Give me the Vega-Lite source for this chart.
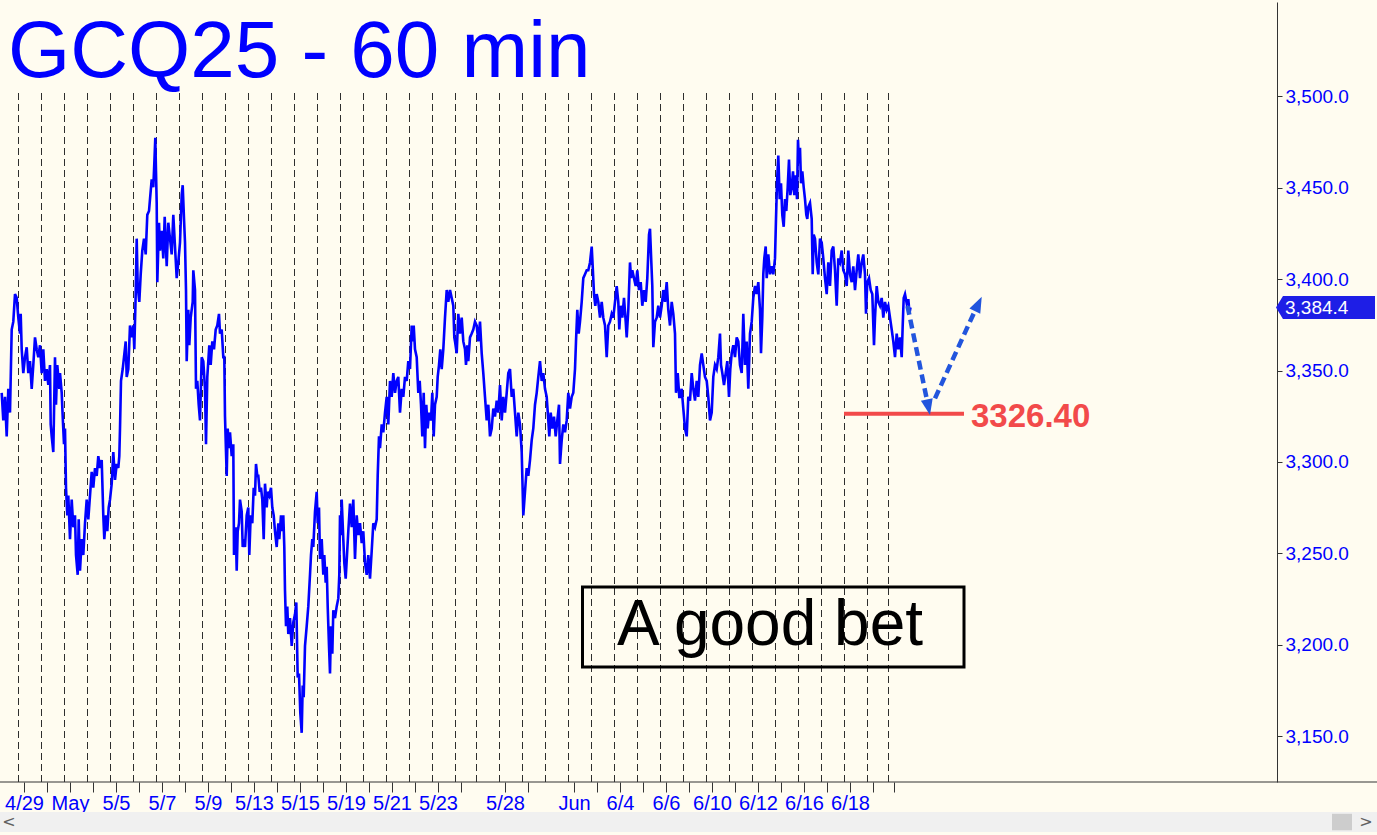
{
"$schema": "https://vega.github.io/schema/vega-lite/v6.json",
"width": 1277, "height": 780, "autosize": "none",
"padding": {"left": 0, "top": 2, "right": 100, "bottom": 53},
"background": "#FFFCF0",
"config": {"view": {"stroke": null}, "font": "Liberation Sans"},
"datasets": {
"series": [
{"t":1.7,"p":3337.8},{"t":3.3,"p":3322.7},{"t":5.0,"p":3335.6},{"t":6.7,"p":3314.0},{"t":8.3,"p":3340.0},{"t":10.0,"p":3327.0},{"t":11.7,"p":3372.4},{"t":13.3,"p":3376.7},{"t":15.0,"p":3391.8},{"t":16.7,"p":3389.7},{"t":18.3,"p":3378.9},{"t":20.0,"p":3370.2},{"t":20.7,"p":3381.0},{"t":21.7,"p":3361.6},{"t":23.3,"p":3348.6},{"t":25.0,"p":3357.3},{"t":26.7,"p":3362.7},{"t":28.3,"p":3348.6},{"t":30.0,"p":3355.1},{"t":31.7,"p":3340.0},{"t":33.3,"p":3353.0},{"t":35.0,"p":3368.1},{"t":36.7,"p":3361.6},{"t":38.3,"p":3357.3},{"t":40.0,"p":3363.8},{"t":41.7,"p":3348.6},{"t":43.3,"p":3361.6},{"t":45.0,"p":3344.3},{"t":46.7,"p":3350.8},{"t":48.3,"p":3342.1},{"t":50.0,"p":3353.0},{"t":50.7,"p":3320.5},{"t":51.7,"p":3314.0},{"t":53.3,"p":3305.4},{"t":55.0,"p":3357.3},{"t":56.0,"p":3331.3},{"t":57.3,"p":3353.0},{"t":59.3,"p":3340.0},{"t":60.0,"p":3348.6},{"t":61.7,"p":3337.8},{"t":62.7,"p":3324.8},{"t":64.0,"p":3309.7},{"t":65.0,"p":3318.3},{"t":66.0,"p":3285.9},{"t":67.3,"p":3270.8},{"t":68.3,"p":3281.6},{"t":70.0,"p":3257.8},{"t":71.7,"p":3279.4},{"t":73.3,"p":3264.3},{"t":75.0,"p":3270.8},{"t":76.0,"p":3249.1},{"t":77.7,"p":3238.3},{"t":78.7,"p":3268.6},{"t":80.0,"p":3240.5},{"t":81.7,"p":3257.8},{"t":83.3,"p":3249.1},{"t":85.0,"p":3266.5},{"t":86.7,"p":3279.4},{"t":88.3,"p":3268.6},{"t":90.0,"p":3281.6},{"t":91.7,"p":3294.6},{"t":93.3,"p":3285.9},{"t":95.0,"p":3296.7},{"t":96.7,"p":3292.4},{"t":98.3,"p":3303.2},{"t":100.0,"p":3296.7},{"t":101.7,"p":3301.0},{"t":103.3,"p":3270.8},{"t":104.3,"p":3257.8},{"t":106.0,"p":3270.8},{"t":107.3,"p":3262.1},{"t":108.7,"p":3275.1},{"t":110.0,"p":3279.4},{"t":111.7,"p":3288.1},{"t":113.3,"p":3305.4},{"t":115.0,"p":3290.2},{"t":116.7,"p":3298.9},{"t":118.3,"p":3296.7},{"t":119.3,"p":3303.2},{"t":120.0,"p":3318.3},{"t":121.0,"p":3344.3},{"t":122.7,"p":3350.8},{"t":124.0,"p":3357.3},{"t":125.7,"p":3365.9},{"t":126.7,"p":3346.5},{"t":128.3,"p":3350.8},{"t":130.0,"p":3374.6},{"t":131.7,"p":3368.1},{"t":133.3,"p":3374.6},{"t":134.3,"p":3361.6},{"t":135.7,"p":3391.8},{"t":136.7,"p":3422.1},{"t":137.7,"p":3396.2},{"t":139.3,"p":3387.5},{"t":140.7,"p":3402.6},{"t":142.3,"p":3415.6},{"t":144.0,"p":3422.1},{"t":145.7,"p":3413.5},{"t":147.3,"p":3435.1},{"t":149.0,"p":3437.2},{"t":150.0,"p":3443.7},{"t":151.7,"p":3454.5},{"t":153.3,"p":3450.2},{"t":154.3,"p":3463.2},{"t":155.3,"p":3477.2},{"t":156.0,"p":3458.9},{"t":156.7,"p":3441.6},{"t":157.3,"p":3398.3},{"t":159.0,"p":3430.8},{"t":160.0,"p":3415.6},{"t":161.7,"p":3426.4},{"t":163.3,"p":3411.3},{"t":164.7,"p":3434.0},{"t":166.7,"p":3407.0},{"t":168.3,"p":3430.8},{"t":170.0,"p":3422.1},{"t":171.7,"p":3413.5},{"t":173.3,"p":3435.1},{"t":175.0,"p":3417.8},{"t":176.7,"p":3400.5},{"t":178.3,"p":3409.1},{"t":180.0,"p":3420.0},{"t":181.7,"p":3445.9},{"t":182.7,"p":3451.3},{"t":184.0,"p":3432.9},{"t":185.0,"p":3420.0},{"t":186.0,"p":3394.0},{"t":186.7,"p":3355.1},{"t":188.3,"p":3383.2},{"t":189.3,"p":3363.8},{"t":190.7,"p":3378.9},{"t":192.7,"p":3387.5},{"t":193.3,"p":3404.8},{"t":195.0,"p":3394.0},{"t":196.0,"p":3340.0},{"t":197.3,"p":3344.3},{"t":198.7,"p":3331.3},{"t":200.0,"p":3322.7},{"t":201.7,"p":3357.3},{"t":203.3,"p":3355.1},{"t":205.0,"p":3340.0},{"t":206.0,"p":3309.7},{"t":207.3,"p":3346.5},{"t":209.3,"p":3363.8},{"t":210.7,"p":3353.0},{"t":212.3,"p":3365.9},{"t":214.0,"p":3361.6},{"t":215.7,"p":3372.4},{"t":217.3,"p":3374.6},{"t":219.0,"p":3381.0},{"t":220.0,"p":3370.2},{"t":221.7,"p":3372.4},{"t":223.3,"p":3357.3},{"t":224.3,"p":3357.3},
{"t":225.0,"p":3324.8},{"t":226.7,"p":3292.4},{"t":227.7,"p":3318.3},{"t":229.0,"p":3307.5},{"t":230.0,"p":3316.2},{"t":231.7,"p":3303.2},{"t":233.3,"p":3309.7},{"t":234.0,"p":3249.1},{"t":235.7,"p":3264.3},{"t":236.7,"p":3240.5},{"t":237.7,"p":3262.1},{"t":239.0,"p":3266.5},{"t":240.0,"p":3279.4},{"t":241.7,"p":3272.9},{"t":242.7,"p":3253.5},{"t":244.0,"p":3257.8},{"t":245.0,"p":3253.5},{"t":246.7,"p":3270.8},{"t":248.3,"p":3275.1},{"t":249.3,"p":3249.1},{"t":250.7,"p":3270.8},{"t":252.3,"p":3266.5},{"t":253.7,"p":3285.9},{"t":255.0,"p":3281.6},{"t":256.0,"p":3298.9},{"t":257.3,"p":3292.4},{"t":258.3,"p":3292.4},{"t":259.7,"p":3283.7},{"t":261.0,"p":3285.9},{"t":262.3,"p":3279.4},{"t":263.7,"p":3257.8},{"t":265.0,"p":3288.1},{"t":266.7,"p":3275.1},{"t":267.7,"p":3283.7},{"t":269.3,"p":3281.6},{"t":271.0,"p":3285.9},{"t":272.3,"p":3275.1},{"t":273.7,"p":3270.8},{"t":275.0,"p":3262.1},{"t":276.7,"p":3253.5},{"t":278.3,"p":3266.5},{"t":279.3,"p":3257.8},{"t":281.0,"p":3270.8},{"t":282.3,"p":3262.1},{"t":283.3,"p":3270.8},{"t":284.3,"p":3253.5},{"t":285.0,"p":3229.7},{"t":286.0,"p":3210.2},{"t":287.3,"p":3221.0},{"t":288.3,"p":3205.9},{"t":290.0,"p":3214.6},{"t":291.7,"p":3199.4},{"t":293.3,"p":3212.4},{"t":295.0,"p":3216.7},{"t":296.3,"p":3223.2},{"t":297.7,"p":3182.1},{"t":299.0,"p":3184.3},{"t":300.3,"p":3162.7},{"t":301.7,"p":3151.9},{"t":302.7,"p":3177.8},{"t":303.7,"p":3171.3},{"t":305.0,"p":3199.4},{"t":306.7,"p":3210.2},{"t":308.3,"p":3221.0},{"t":310.0,"p":3238.3},{"t":311.0,"p":3249.1},{"t":312.3,"p":3257.8},{"t":313.3,"p":3253.5},{"t":315.0,"p":3272.9},{"t":316.7,"p":3283.7},{"t":317.7,"p":3266.5},{"t":319.0,"p":3275.1},{"t":320.0,"p":3247.0},{"t":321.7,"p":3257.8},{"t":323.3,"p":3238.3},{"t":324.3,"p":3249.1},{"t":325.7,"p":3234.0},{"t":326.7,"p":3242.7},{"t":327.7,"p":3221.0},{"t":329.0,"p":3199.4},{"t":330.0,"p":3184.3},{"t":331.0,"p":3210.2},{"t":332.3,"p":3195.1},{"t":333.3,"p":3218.9},{"t":335.0,"p":3214.6},{"t":336.7,"p":3221.0},{"t":338.3,"p":3225.4},{"t":339.3,"p":3238.3},{"t":340.0,"p":3270.8},{"t":341.0,"p":3260.0},{"t":341.7,"p":3279.4},{"t":343.3,"p":3257.8},{"t":344.3,"p":3244.8},{"t":345.7,"p":3236.2},{"t":347.0,"p":3249.1},{"t":348.3,"p":3262.1},{"t":350.0,"p":3277.3},{"t":351.7,"p":3264.3},{"t":353.3,"p":3279.4},{"t":355.0,"p":3247.0},{"t":356.7,"p":3270.8},{"t":358.3,"p":3260.0},{"t":360.0,"p":3266.5},{"t":361.7,"p":3255.6},{"t":363.3,"p":3262.1},{"t":365.0,"p":3244.8},{"t":366.7,"p":3238.3},{"t":368.3,"p":3249.1},{"t":370.0,"p":3236.2},{"t":371.7,"p":3251.3},{"t":373.3,"p":3266.5},{"t":375.0,"p":3264.3},{"t":376.7,"p":3268.6},{"t":377.7,"p":3292.4},{"t":379.0,"p":3314.0},{"t":380.0,"p":3307.5},{"t":381.7,"p":3320.5},{"t":383.3,"p":3316.2},{"t":385.0,"p":3327.0},{"t":386.7,"p":3335.6},{"t":388.3,"p":3320.5},{"t":390.0,"p":3344.3},{"t":391.7,"p":3335.6},{"t":393.3,"p":3348.6},{"t":395.0,"p":3337.8},{"t":396.7,"p":3344.3},{"t":398.3,"p":3346.5},{"t":400.0,"p":3327.0},{"t":401.7,"p":3340.0},{"t":403.3,"p":3335.6},{"t":405.0,"p":3346.5},{"t":406.7,"p":3344.3},{"t":408.3,"p":3355.1},{"t":410.0,"p":3350.8},{"t":411.7,"p":3374.6},{"t":412.7,"p":3365.9},{"t":413.7,"p":3374.6},{"t":415.0,"p":3361.6},{"t":416.7,"p":3357.3},{"t":418.3,"p":3337.8},{"t":419.7,"p":3344.3},{"t":421.0,"p":3331.3},{"t":422.3,"p":3314.0},{"t":423.7,"p":3337.8},{"t":425.0,"p":3307.5},{"t":426.3,"p":3331.3},{"t":427.7,"p":3318.3},{"t":429.0,"p":3327.0},{"t":431.0,"p":3322.7},{"t":432.3,"p":3337.8},{"t":433.7,"p":3314.0},{"t":435.0,"p":3331.3},{"t":436.7,"p":3335.6},{"t":437.7,"p":3346.5},{"t":439.0,"p":3353.0},{"t":440.3,"p":3361.6},{"t":441.7,"p":3350.8},{"t":443.3,"p":3361.6},{"t":445.0,"p":3378.9},{"t":446.7,"p":3394.0},{"t":448.3,"p":3387.5},{"t":450.0,"p":3394.0},{"t":451.7,"p":3389.7},{"t":453.3,"p":3385.4},{"t":454.3,"p":3368.1},
{"t":455.0,"p":3365.9},{"t":456.7,"p":3359.4},{"t":458.3,"p":3381.0},{"t":460.0,"p":3370.2},{"t":461.7,"p":3378.9},{"t":463.3,"p":3365.9},{"t":465.0,"p":3361.6},{"t":466.0,"p":3353.0},{"t":467.3,"p":3363.8},{"t":468.3,"p":3355.1},{"t":470.0,"p":3368.1},{"t":471.7,"p":3370.2},{"t":473.3,"p":3372.4},{"t":475.0,"p":3376.7},{"t":476.7,"p":3374.6},{"t":478.3,"p":3365.9},{"t":480.0,"p":3376.7},{"t":481.7,"p":3359.4},{"t":483.3,"p":3348.6},{"t":485.0,"p":3335.6},{"t":486.7,"p":3322.7},{"t":488.3,"p":3331.3},{"t":490.0,"p":3314.0},{"t":491.7,"p":3318.3},{"t":493.3,"p":3329.2},{"t":495.0,"p":3324.8},{"t":496.7,"p":3333.5},{"t":498.3,"p":3327.0},{"t":500.0,"p":3342.1},{"t":501.7,"p":3322.7},{"t":503.3,"p":3335.6},{"t":505.0,"p":3327.0},{"t":506.7,"p":3337.8},{"t":508.3,"p":3348.6},{"t":510.0,"p":3350.8},{"t":511.7,"p":3335.6},{"t":513.3,"p":3340.0},{"t":515.0,"p":3327.0},{"t":516.7,"p":3314.0},{"t":518.3,"p":3327.0},{"t":520.0,"p":3320.5},{"t":521.7,"p":3305.4},{"t":523.3,"p":3270.8},{"t":525.0,"p":3283.7},{"t":526.7,"p":3296.7},{"t":528.3,"p":3292.4},{"t":530.0,"p":3301.0},{"t":531.7,"p":3311.9},{"t":533.3,"p":3318.3},{"t":535.0,"p":3331.3},{"t":536.7,"p":3337.8},{"t":538.3,"p":3346.5},{"t":540.0,"p":3355.1},{"t":541.7,"p":3344.3},{"t":543.3,"p":3348.6},{"t":545.0,"p":3340.0},{"t":546.7,"p":3335.6},{"t":548.3,"p":3322.7},{"t":549.3,"p":3314.0},{"t":550.7,"p":3327.0},{"t":552.3,"p":3318.3},{"t":554.0,"p":3324.8},{"t":555.7,"p":3314.0},{"t":557.3,"p":3322.7},{"t":559.0,"p":3331.3},{"t":560.0,"p":3298.9},{"t":561.7,"p":3311.9},{"t":563.3,"p":3320.5},{"t":565.0,"p":3316.2},{"t":566.7,"p":3322.7},{"t":568.3,"p":3337.8},{"t":570.0,"p":3329.2},{"t":571.7,"p":3335.6},{"t":573.3,"p":3337.8},{"t":575.0,"p":3350.8},{"t":576.0,"p":3365.9},{"t":577.3,"p":3383.2},{"t":578.7,"p":3370.2},{"t":580.0,"p":3376.7},{"t":581.7,"p":3387.5},{"t":583.3,"p":3400.5},{"t":585.0,"p":3402.6},{"t":586.7,"p":3404.8},{"t":588.3,"p":3404.8},{"t":590.0,"p":3409.1},{"t":591.7,"p":3417.8},{"t":592.7,"p":3407.0},{"t":594.0,"p":3391.8},{"t":595.3,"p":3385.4},{"t":596.7,"p":3391.8},{"t":598.3,"p":3387.5},{"t":600.0,"p":3378.9},{"t":601.7,"p":3387.5},{"t":603.3,"p":3378.9},{"t":605.0,"p":3374.6},{"t":606.7,"p":3357.3},{"t":608.3,"p":3374.6},{"t":610.0,"p":3376.7},{"t":611.7,"p":3381.0},{"t":613.3,"p":3378.9},{"t":615.0,"p":3387.5},{"t":616.7,"p":3396.2},{"t":618.3,"p":3387.5},{"t":619.3,"p":3372.4},{"t":620.7,"p":3385.4},{"t":622.3,"p":3378.9},{"t":624.0,"p":3389.7},{"t":625.7,"p":3376.7},{"t":626.7,"p":3368.1},{"t":628.3,"p":3383.2},{"t":630.0,"p":3409.1},{"t":631.0,"p":3400.5},{"t":632.3,"p":3404.8},{"t":634.0,"p":3400.5},{"t":635.7,"p":3396.2},{"t":637.3,"p":3404.8},{"t":639.0,"p":3394.0},{"t":640.7,"p":3398.3},{"t":642.3,"p":3385.4},{"t":644.0,"p":3394.0},{"t":645.7,"p":3387.5},{"t":647.3,"p":3400.5},{"t":649.0,"p":3424.3},{"t":650.0,"p":3427.5},{"t":651.0,"p":3413.5},{"t":652.3,"p":3396.2},{"t":653.3,"p":3362.7},{"t":655.0,"p":3376.7},{"t":656.7,"p":3378.9},{"t":658.3,"p":3385.4},{"t":660.0,"p":3378.9},{"t":661.7,"p":3385.4},{"t":663.3,"p":3394.0},{"t":665.0,"p":3387.5},{"t":666.7,"p":3398.3},{"t":668.3,"p":3383.2},{"t":670.0,"p":3374.6},{"t":671.7,"p":3387.5},{"t":673.3,"p":3381.0},{"t":675.0,"p":3370.2},{"t":676.0,"p":3337.8},{"t":677.7,"p":3348.6},{"t":679.3,"p":3335.6},
{"t":680.0,"p":3335.6},{"t":681.7,"p":3340.0},{"t":683.3,"p":3329.2},{"t":685.0,"p":3318.3},{"t":686.7,"p":3314.0},{"t":688.3,"p":3335.6},{"t":690.0,"p":3333.5},{"t":691.7,"p":3348.6},{"t":693.3,"p":3340.0},{"t":695.0,"p":3333.5},{"t":696.7,"p":3344.3},{"t":698.3,"p":3335.6},{"t":700.0,"p":3353.0},{"t":701.7,"p":3359.4},{"t":703.3,"p":3353.0},{"t":705.0,"p":3346.5},{"t":706.7,"p":3344.3},{"t":708.3,"p":3335.6},{"t":710.0,"p":3322.7},{"t":711.7,"p":3327.0},{"t":713.3,"p":3346.5},{"t":715.0,"p":3353.0},{"t":716.7,"p":3350.8},{"t":718.3,"p":3357.3},{"t":720.0,"p":3370.2},{"t":721.0,"p":3353.0},{"t":722.3,"p":3348.6},{"t":724.0,"p":3342.1},{"t":725.7,"p":3348.6},{"t":727.3,"p":3355.1},{"t":729.0,"p":3335.6},{"t":730.3,"p":3350.8},{"t":731.7,"p":3359.4},{"t":733.3,"p":3363.8},{"t":735.0,"p":3357.3},{"t":736.7,"p":3368.1},{"t":738.3,"p":3365.9},{"t":740.0,"p":3353.0},{"t":741.7,"p":3348.6},{"t":743.3,"p":3381.0},{"t":745.0,"p":3353.0},{"t":746.7,"p":3365.9},{"t":748.3,"p":3340.0},{"t":750.0,"p":3370.2},{"t":751.7,"p":3376.7},{"t":753.3,"p":3389.7},{"t":755.0,"p":3396.2},{"t":756.7,"p":3391.8},{"t":758.3,"p":3398.3},{"t":760.0,"p":3383.2},{"t":761.0,"p":3359.4},{"t":762.3,"p":3378.9},{"t":763.3,"p":3402.6},{"t":764.3,"p":3411.3},{"t":765.7,"p":3417.8},{"t":766.7,"p":3400.5},{"t":768.3,"p":3413.5},{"t":770.0,"p":3402.6},{"t":771.7,"p":3407.0},{"t":773.3,"p":3402.6},{"t":775.0,"p":3411.3},{"t":776.0,"p":3432.9},{"t":777.0,"p":3452.4},{"t":778.3,"p":3467.5},{"t":779.7,"p":3443.7},{"t":781.0,"p":3452.4},{"t":782.3,"p":3435.1},{"t":783.7,"p":3428.6},{"t":785.0,"p":3443.7},{"t":786.3,"p":3437.2},{"t":787.7,"p":3450.2},{"t":789.0,"p":3465.3},{"t":790.3,"p":3445.9},{"t":791.7,"p":3450.2},{"t":793.0,"p":3458.9},{"t":794.3,"p":3445.9},{"t":795.7,"p":3456.7},{"t":797.0,"p":3443.7},{"t":798.0,"p":3476.2},{"t":799.0,"p":3463.2},{"t":800.0,"p":3471.8},{"t":801.0,"p":3452.4},{"t":802.3,"p":3458.9},{"t":803.7,"p":3450.2},{"t":805.0,"p":3443.7},{"t":806.3,"p":3435.1},{"t":807.3,"p":3432.9},{"t":808.3,"p":3439.4},{"t":810.0,"p":3441.6},{"t":811.7,"p":3432.9},{"t":812.7,"p":3402.6},{"t":813.7,"p":3424.3},{"t":815.0,"p":3422.1},{"t":816.7,"p":3409.1},{"t":818.3,"p":3402.6},{"t":820.0,"p":3422.1},{"t":821.7,"p":3420.0},{"t":823.3,"p":3411.3},{"t":825.0,"p":3400.5},{"t":826.7,"p":3391.8},{"t":828.3,"p":3409.1},{"t":830.0,"p":3396.2},{"t":831.7,"p":3415.6},{"t":833.3,"p":3417.8},{"t":835.0,"p":3404.8},{"t":836.7,"p":3385.4},{"t":838.3,"p":3411.3},{"t":840.0,"p":3409.1},{"t":841.7,"p":3415.6},{"t":843.3,"p":3404.8},{"t":845.0,"p":3402.6},{"t":846.7,"p":3396.2},{"t":848.3,"p":3415.6},{"t":850.0,"p":3402.6},{"t":851.7,"p":3398.3},{"t":853.3,"p":3407.0},{"t":855.0,"p":3394.0},{"t":856.7,"p":3404.8},{"t":858.3,"p":3413.5},{"t":860.0,"p":3400.5},{"t":861.7,"p":3409.1},{"t":863.3,"p":3413.5},{"t":865.0,"p":3402.6},{"t":866.0,"p":3381.0},{"t":867.3,"p":3398.3},{"t":869.0,"p":3400.5},{"t":870.7,"p":3394.0},{"t":872.3,"p":3391.8},{"t":874.0,"p":3363.8},{"t":875.0,"p":3378.9},{"t":876.7,"p":3396.2},{"t":878.3,"p":3387.5},{"t":880.0,"p":3385.4},{"t":881.7,"p":3389.7},{"t":883.3,"p":3378.9},{"t":885.0,"p":3387.5},{"t":886.7,"p":3383.2},{"t":888.3,"p":3385.4},{"t":890.0,"p":3378.9},{"t":891.7,"p":3372.4},{"t":893.3,"p":3365.9},{"t":895.0,"p":3357.3},{"t":896.7,"p":3370.2},{"t":898.3,"p":3361.6},{"t":900.0,"p":3368.1},{"t":901.7,"p":3357.3},{"t":902.7,"p":3374.6},{"t":903.7,"p":3389.7},{"t":905.0,"p":3391.8},{"t":906.7,"p":3386.7},{"t":908.3,"p":3389.0},{"t":909.5,"p":3381.5},{"t":910.5,"p":3384.4}
],
"seps": [{"t":18.5},{"t":41.5},{"t":64.5},{"t":87.5},{"t":110.5},{"t":133.5},{"t":156.5},{"t":179.5},{"t":202.5},{"t":225.5},{"t":248.5},{"t":271.5},{"t":294.5},{"t":317.5},{"t":340.5},{"t":363.5},{"t":386.5},{"t":409.5},{"t":432.5},{"t":455.5},{"t":476.5},{"t":499.5},{"t":522.5},{"t":545.5},{"t":568.5},{"t":591.5},{"t":614.5},{"t":637.5},{"t":660.5},{"t":683.5},{"t":706.5},{"t":729.5},{"t":752.5},{"t":775.5},{"t":798.5},{"t":821.5},{"t":844.5},{"t":867.5},{"t":888.5}]
},
"encoding": {
"x": {"field": "t", "type": "quantitative", "scale": {"domain": [0, 1277], "nice": false, "zero": false},
 "axis": {"orient": "bottom", "title": null, "domain": false, "grid": false,
  "values": [24,47,70,93,116,139,162,185,208,231,254,277,300,323,346,369,392,415,438,461,505,528,574,597,620,643,666,689,712,735,758,781,804,827,850,873,894],
  "labelExpr": "datum.value == 24 ? '4/29' : datum.value == 70 ? 'May' : datum.value == 116 ? '5/5' : datum.value == 162 ? '5/7' : datum.value == 208 ? '5/9' : datum.value == 254 ? '5/13' : datum.value == 300 ? '5/15' : datum.value == 346 ? '5/19' : datum.value == 392 ? '5/21' : datum.value == 438 ? '5/23' : datum.value == 505 ? '5/28' : datum.value == 574 ? 'Jun' : datum.value == 620 ? '6/4' : datum.value == 666 ? '6/6' : datum.value == 712 ? '6/10' : datum.value == 758 ? '6/12' : datum.value == 804 ? '6/16' : datum.value == 850 ? '6/18' : ''",
  "tickSize": 10, "tickColor": "#333333", "labelColor": "#0000FF", "labelFontSize": 20, "labelFont": "Liberation Sans",
  "labelPadding": 1, "labelOverlap": false, "labelFlush": false, "labelBound": false}},
"y": {"field": "p", "type": "quantitative", "scale": {"domain": [3125, 3551.5], "nice": false, "zero": false},
 "axis": {"orient": "right", "title": null, "grid": false, "values": [3150,3200,3250,3300,3350,3400,3450,3500],
  "format": ",.1f", "tickSize": 5, "tickColor": "#333333", "domainColor": "#333333", "labelColor": "#0000FF",
  "labelFontSize": 19, "labelFont": "Liberation Sans", "labelPadding": 3, "labelOverlap": false, "labelFlush": false, "labelBound": false}}
},
"layer": [
{"data": {"values": [{"t": 0, "t2": 1377, "p": 3108.6, "p2": 3097.7}]},
 "mark": {"type": "rect", "fill": "#F0F0F0"},
 "encoding": {"x2": {"field": "t2"}, "y2": {"field": "p2"}}},
{"data": {"values": [{"t": 1332, "t2": 1352, "p": 3107.6, "p2": 3098.6}]},
 "mark": {"type": "rect", "fill": "#CDCDCD"},
 "encoding": {"x2": {"field": "t2"}, "y2": {"field": "p2"}}},
{"data": {"values": [{"t": 9, "p": 3103.1, "s": "<"}, {"t": 1366, "p": 3103.1, "s": ">"}]},
 "mark": {"type": "text", "color": "#606060", "fontSize": 16, "align": "center", "baseline": "middle", "font": "DejaVu Sans"},
 "encoding": {"text": {"field": "s"}}},
{"data": {"name": "seps"},
 "transform": [{"calculate": "3125", "as": "lo"}, {"calculate": "3503.4", "as": "hi"}],
 "mark": {"type": "rule", "color": "#2E2E2E", "strokeWidth": 1, "strokeDash": [7, 4]},
 "encoding": {"y": {"field": "lo", "type": "quantitative"}, "y2": {"field": "hi"}}},
{"data": {"values": [{"t": 0, "t2": 1377, "p": 3125}]},
 "mark": {"type": "rule", "color": "#333333", "strokeWidth": 1},
 "encoding": {"x2": {"field": "t2"}}},
{"data": {"values": [{"t": 582.5, "t2": 964, "p": 3231.6, "p2": 3187.9}]},
 "mark": {"type": "rect", "fill": null, "fillOpacity": 0, "stroke": "#000000", "strokeWidth": 3},
 "encoding": {"x2": {"field": "t2"}, "y2": {"field": "p2"}}},
{"data": {"values": [{"t": 770, "p": 3199.9, "s": "A good bet"}]},
 "mark": {"type": "text", "color": "#000000", "fontSize": 64, "align": "center", "baseline": "alphabetic", "font": "Liberation Sans"},
 "encoding": {"text": {"field": "s"}}},
{"data": {"values": [{"t": 8, "p": 3510.3, "s": "GCQ25 - 60 min"}]},
 "mark": {"type": "text", "color": "#0000FF", "fontSize": 80, "align": "left", "baseline": "alphabetic", "font": "Liberation Sans"},
 "encoding": {"text": {"field": "s"}}},
{"data": {"name": "series"},
 "mark": {"type": "line", "color": "#0000FF", "strokeWidth": 2.6, "strokeJoin": "miter"}},
{"data": {"values": [{"t": 844, "t2": 964, "p": 3326.4}]},
 "mark": {"type": "rule", "color": "#F24A4A", "strokeWidth": 4},
 "encoding": {"x2": {"field": "t2"}}},
{"data": {"values": [{"t": 971, "p": 3318.9, "s": "3326.40"}]},
 "mark": {"type": "text", "color": "#F24A4A", "fontSize": 33, "fontWeight": "bold", "align": "left", "baseline": "alphabetic", "font": "Liberation Sans"},
 "encoding": {"text": {"field": "s"}}},
{"data": {"values": [{"a": "down", "t": 907.5, "p": 3385.3}, {"a": "down", "t": 926.8, "p": 3334.3}, {"a": "up", "t": 935, "p": 3334.8}, {"a": "up", "t": 974.8, "p": 3382.5}]},
 "mark": {"type": "line", "color": "#2255DD", "strokeWidth": 4.5, "strokeDash": [9, 5], "strokeCap": "butt"},
 "encoding": {"detail": {"field": "a"}}},
{"data": {"values": [{"t": 928.4, "p": 3329.9}]},
 "mark": {"type": "point", "shape": "M0,-1L0.75,1L-0.75,1Z", "size": 256, "angle": 168.5, "filled": true, "color": "#2255DD", "opacity": 1}},
{"data": {"values": [{"t": 978.3, "p": 3386.4}]},
 "mark": {"type": "point", "shape": "M0,-1L0.75,1L-0.75,1Z", "size": 256, "angle": 25.4, "filled": true, "color": "#2255DD", "opacity": 1}},
{"data": {"values": [{"t": 1325.5, "p": 3384.4}]},
 "mark": {"type": "point", "shape": "M-1,0L-0.859,-0.232L1,-0.232L1,0.232L-0.859,0.232Z", "size": 9801, "filled": true, "color": "#1E1EE6", "opacity": 1}},
{"data": {"values": [{"t": 1285, "p": 3384.4, "s": "3,384.4"}]},
 "mark": {"type": "text", "color": "#FFFFFF", "fontSize": 19, "align": "left", "baseline": "middle", "font": "Liberation Sans"},
 "encoding": {"text": {"field": "s"}}}
]
}
